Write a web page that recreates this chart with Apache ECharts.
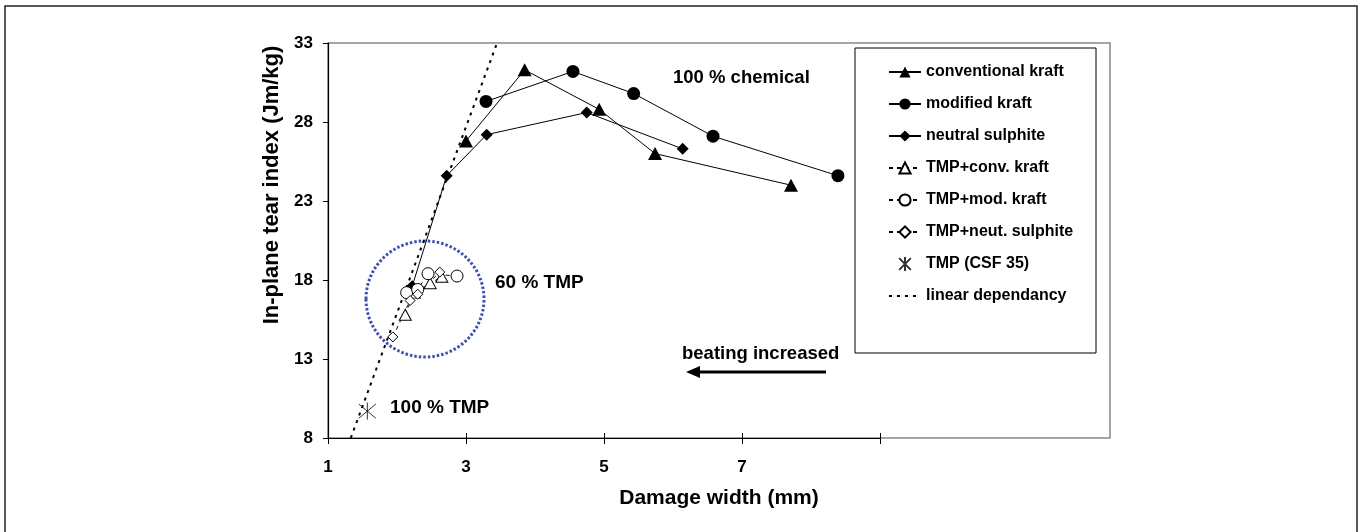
<!DOCTYPE html>
<html>
<head>
<meta charset="utf-8">
<script src="https://cdn.jsdelivr.net/npm/echarts@6/dist/echarts.min.js"></script>
<style>
  html, body { margin: 0; padding: 0; background: #fff; }
  #main { width: 1365px; height: 532px; }
</style>
</head>
<body>
<div id="main"></div>
<script>
// tick labels
var xTickLabels = [1, 3, 5, 7];
var yTickLabels = [8, 13, 18, 23, 28, 33];

// 100 % chemical pulps
var convKraftX = [3.0, 3.85, 4.93, 5.74, 7.71];
var convKraftY = [26.8, 31.3, 28.8, 26.0, 24.0];
var modKraftX = [3.29, 4.55, 5.43, 6.58, 8.39];
var modKraftY = [29.3, 31.2, 29.8, 27.1, 24.6];
var neutSulX = [2.22, 2.72, 3.30, 4.75, 6.14];
var neutSulY = [17.6, 24.6, 27.2, 28.6, 26.3];

// 60 % TMP blends
var tmpConvX = [2.12, 2.25, 2.48, 2.65];
var tmpConvY = [15.8, 17.2, 17.8, 18.2];
var tmpModX = [2.14, 2.30, 2.45, 2.87];
var tmpModY = [17.2, 17.4, 18.4, 18.25];
var tmpNeutX = [1.94, 2.19, 2.30, 2.62];
var tmpNeutY = [14.4, 16.7, 17.1, 18.5];

// 100 % TMP
var tmpX = [1.57];
var tmpY = [9.7];

// linear dependency (end points)
var linX = [1.33, 3.45];
var linY = [8, 33];

function pairs(xs, ys) {
  return xs.map(function (x, i) { return [x, ys[i]]; });
}

var FONT = '"Liberation Sans", Arial, sans-serif';
var asterisk = 'path://M0,0L10,10M0,10L10,0M5,-1L5,11';

var chart = echarts.init(document.getElementById('main'));

chart.setOption({
  animation: false,
  backgroundColor: '#fff',
  grid: { left: 328, top: 43, width: 552, height: 395 },
  xAxis: [
    {
      type: 'value', min: 1, max: 9, interval: 2,
      axisLine: { lineStyle: { color: '#000', width: 1.2 } },
      axisTick: { show: true, length: 6, lineStyle: { color: '#000' } },
      splitLine: { show: false },
      axisLabel: {
        margin: 21, color: '#000', fontSize: 17, fontWeight: 'bold', fontFamily: FONT,
        formatter: function (v) { return xTickLabels.indexOf(v) >= 0 ? String(v) : ''; }
      }
    },
    {
      // inner half of the crossing tick marks
      type: 'value', min: 1, max: 9, interval: 2, position: 'bottom', offset: 0,
      axisLine: { show: false },
      axisTick: { show: true, inside: true, length: 5, lineStyle: { color: '#000' } },
      axisLabel: { show: false },
      splitLine: { show: false }
    }
  ],
  yAxis: {
    type: 'value', min: 8, max: 33, interval: 5,
    axisLine: { show: true, lineStyle: { color: '#000', width: 1.2 } },
    axisTick: { show: true, length: 5, lineStyle: { color: '#000' } },
    splitLine: { show: false },
    axisLabel: {
      margin: 15, color: '#000', fontSize: 17, fontWeight: 'bold', fontFamily: FONT,
      formatter: function (v) { return yTickLabels.indexOf(v) >= 0 ? String(v) : ''; }
    }
  },
  legend: {
    orient: 'vertical', left: 883, top: 59,
    itemWidth: 32, itemHeight: 14, itemGap: 16,
    textStyle: { color: '#000', fontSize: 16, fontWeight: 'bold', fontFamily: FONT },
    data: ['conventional kraft', 'modified kraft', 'neutral sulphite', 'TMP+conv. kraft',
           'TMP+mod. kraft', 'TMP+neut. sulphite', 'TMP (CSF 35)',
           { name: 'linear dependancy', itemStyle: { opacity: 0 } }]
  },
  series: [
    {
      name: 'conventional kraft', type: 'line', data: pairs(convKraftX, convKraftY),
      symbol: 'triangle', symbolSize: [14, 13],
      lineStyle: { color: '#000', width: 1 }, itemStyle: { color: '#000' }
    },
    {
      name: 'modified kraft', type: 'line', data: pairs(modKraftX, modKraftY),
      symbol: 'circle', symbolSize: 13,
      lineStyle: { color: '#000', width: 1 }, itemStyle: { color: '#000' }
    },
    {
      name: 'neutral sulphite', type: 'line', data: pairs(neutSulX, neutSulY),
      symbol: 'diamond', symbolSize: 12,
      lineStyle: { color: '#000', width: 1 }, itemStyle: { color: '#000' }
    },
    {
      name: 'TMP+conv. kraft', type: 'line', data: pairs(tmpConvX, tmpConvY),
      symbol: 'triangle', symbolSize: [12, 11],
      lineStyle: { color: '#000', width: 1, type: [4, 4] },
      itemStyle: { color: '#fff', borderColor: '#000', borderWidth: 1 }
    },
    {
      name: 'TMP+mod. kraft', type: 'line', data: pairs(tmpModX, tmpModY),
      symbol: 'circle', symbolSize: 12,
      lineStyle: { color: '#000', width: 1, type: [4, 4] },
      itemStyle: { color: '#fff', borderColor: '#000', borderWidth: 1 }
    },
    {
      name: 'TMP+neut. sulphite', type: 'line', data: pairs(tmpNeutX, tmpNeutY),
      symbol: 'diamond', symbolSize: 10,
      lineStyle: { color: '#000', width: 1, type: [4, 4] },
      itemStyle: { color: '#fff', borderColor: '#000', borderWidth: 1 }
    },
    {
      name: 'TMP (CSF 35)', type: 'scatter', data: pairs(tmpX, tmpY),
      symbol: asterisk, symbolSize: 17,
      itemStyle: { color: 'transparent', borderColor: '#000', borderWidth: 1 }
    },
    {
      name: 'linear dependancy', type: 'line', data: pairs(linX, linY),
      symbol: 'none',
      lineStyle: { color: '#000', width: 2, type: [3, 5] }, itemStyle: { color: '#000' }
    }
  ],
  graphic: [
    // outer frame
    { type: 'rect', shape: { x: 5, y: 6, width: 1352, height: 540 }, silent: true,
      style: { fill: 'none', stroke: '#222', lineWidth: 1.5 }, z: -1 },
    // plot area frame
    { type: 'rect', shape: { x: 328, y: 43, width: 782, height: 395 }, silent: true,
      style: { fill: 'none', stroke: '#888', lineWidth: 1.5 }, z: -1 },
    // legend box
    { type: 'rect', shape: { x: 855, y: 48, width: 241, height: 305 }, silent: true,
      style: { fill: '#fff', stroke: '#000', lineWidth: 1 }, z: 0 },
    // 60 % TMP zone
    { type: 'ellipse', shape: { cx: 425, cy: 299, rx: 59, ry: 58 }, silent: true,
      style: { fill: 'none', stroke: '#3f51b0', lineWidth: 3, lineDash: [2.5, 2] }, z: 1 },
    // axis titles
    { type: 'text', x: 272, y: 185, rotation: Math.PI / 2, silent: true,
      style: { text: 'In-plane tear index (Jm/kg)', fill: '#000', font: 'bold 22px ' + FONT,
               textAlign: 'center', textVerticalAlign: 'middle' } },
    { type: 'text', x: 719, y: 498, silent: true,
      style: { text: 'Damage width (mm)', fill: '#000', font: 'bold 21px ' + FONT,
               textAlign: 'center', textVerticalAlign: 'middle' } },
    // annotations
    { type: 'text', x: 673, y: 78, silent: true,
      style: { text: '100 % chemical', fill: '#000', font: 'bold 18.5px ' + FONT,
               textAlign: 'left', textVerticalAlign: 'middle' } },
    { type: 'text', x: 495, y: 283, silent: true,
      style: { text: '60 % TMP', fill: '#000', font: 'bold 19px ' + FONT,
               textAlign: 'left', textVerticalAlign: 'middle' } },
    { type: 'text', x: 390, y: 408, silent: true,
      style: { text: '100 % TMP', fill: '#000', font: 'bold 19px ' + FONT,
               textAlign: 'left', textVerticalAlign: 'middle' } },
    { type: 'text', x: 682, y: 354, silent: true,
      style: { text: 'beating increased', fill: '#000', font: 'bold 18.5px ' + FONT,
               textAlign: 'left', textVerticalAlign: 'middle' } },
    // arrow
    { type: 'line', shape: { x1: 826, y1: 372, x2: 698, y2: 372 }, silent: true,
      style: { stroke: '#000', lineWidth: 3 } },
    { type: 'polygon', shape: { points: [[686, 372], [700, 366], [700, 378]] }, silent: true,
      style: { fill: '#000' } }
  ]
});
</script>
</body>
</html>
